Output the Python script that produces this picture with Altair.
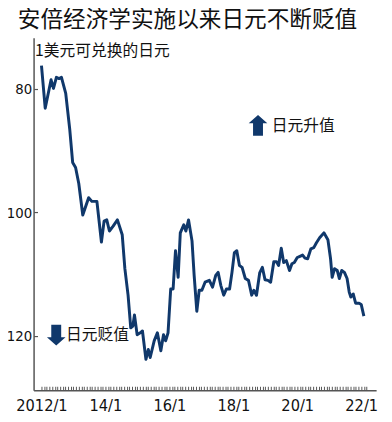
import altair as alt
import pandas as pd

# months since 2012/1 and yen per dollar
months = [0, 1.4, 3.6, 4.5, 5.6, 6.6, 7.5, 9.1, 10.6, 11.7, 12.8, 14, 15.5, 17.7, 18.9,
          20.8, 22.5, 23.5, 24.5, 25.5, 26.9, 28.5, 30.3, 31.3, 32.5, 33.5, 34.3, 34.9,
          35.9, 37.1, 37.9, 39.2, 40.1, 40.8, 42.3, 43.5, 44.8, 45.8, 46.6, 47.5, 48.5,
          49.4, 50.3, 51.3, 52.1, 53.4, 54.2, 55.2, 56.5, 57.3, 58.3, 59.2, 60.2, 61.4,
          63, 64.2, 65.4, 66.3, 67.3, 68.4, 69.4, 70.6, 71.5, 72.4, 73.3, 74.3, 75.3,
          76.5, 77.7, 78.9, 79.7, 80.7, 81.9, 82.9, 83.9, 85, 86, 87.2, 88.2, 89, 90,
          90.9, 91.9, 93.1, 94, 94.9, 96, 97, 98, 98.9, 99.9, 101.1, 102.2, 103.2, 104.4,
          106, 107.5, 108.5, 109.1, 110, 111, 111.8, 112.7, 113.7, 114.7, 115.5, 116.1,
          117, 117.9, 119.2, 120, 121]
yen = [76.2, 83.1, 78.5, 79.9, 78.1, 78.3, 78.1, 80.7, 86.5, 91.9, 92.7, 95.3, 100.4, 97.6, 98.2,
       98.2, 104.8, 101.4, 101.2, 103.0, 102.2, 101.2, 103.6, 109.1, 113.4, 118.7, 118.4, 116.6,
       119.8, 119.5, 119.2, 123.8, 122.2, 123.5, 120.8, 119.5, 122.4, 119.8, 120.8, 119.5, 112.4,
       112.4, 106.2, 110.5, 103.3, 102.0, 103.0, 101.2, 104.6, 110.2, 116.0, 112.6, 112.6, 111.3,
       111.0, 112.1, 110.2, 109.7, 111.8, 113.4, 112.4, 112.4, 109.7, 106.5, 106.2, 108.6, 108.9,
       110.7, 111.0, 113.4, 112.6, 113.4, 109.8, 108.9, 110.9, 111.0, 111.3, 108.0, 108.0, 108.6, 105.8,
       108.1, 107.8, 109.4, 108.3, 108.1, 107.3, 107.1, 106.9, 107.4, 107.5, 105.9, 105.7, 104.9, 104.1,
       103.3, 104.4, 107.5, 110.5, 109.1, 109.4, 110.7, 109.4, 109.7, 110.7, 112.9, 113.7,
       113.2, 114.7, 114.7, 114.9, 116.8]

label_months = [0, 24, 48, 72, 96, 120]
y_ticks = [80, 100, 120]
minor_months = list(range(0, 123))

title_text = "安倍经济学实施以来日元不断贬值"
unit_text = "1美元可兑换的日元"
up_text = ["日元升值"]
down_text = ["日元贬值"]

NAVY = "#10386b"
AXIS = "#555555"
NUM_FONT = "Liberation Sans Narrow, DejaVu Sans Condensed, Liberation Sans, sans-serif"
CJK = "Noto Sans CJK SC"

df = pd.DataFrame({"m": months, "v": yen})

xscale = alt.Scale(domain=[-2.96, 125.6], nice=False, zero=False)
yscale = alt.Scale(domain=[71.7, 128.8], reverse=True, nice=False, zero=False)

label_expr = "datum.value == 0 ? '2012/1' : (12 + datum.value / 12) + '/1'"

line = alt.Chart(df).mark_line(color=NAVY, strokeWidth=3, strokeJoin="round").encode(
    x=alt.X("m:Q", scale=xscale,
            axis=alt.Axis(values=label_months, labelExpr=label_expr, ticks=False, grid=False,
                          domainColor=AXIS, domainWidth=1.5, labelFont=NUM_FONT, labelFontSize=16.5,
                          labelColor="#111", labelPadding=8, title=None)),
    y=alt.Y("v:Q", scale=yscale,
            axis=alt.Axis(values=y_ticks, ticks=False, grid=False, domainColor=AXIS, domainWidth=1.5,
                          labelFont=NUM_FONT, labelFontSize=15, labelColor="#111", labelPadding=2,
                          title=unit_text, titleAngle=0, titleAlign="left", titleBaseline="top",
                          titleX=1, titleY=5, titleFont=CJK, titleFontSize=16,
                          titleFontWeight="normal", titleColor="#111")),
)

ticks = alt.Chart(df).mark_line(opacity=0).encode(
    x=alt.X("m:Q", scale=xscale,
            axis=alt.Axis(values=minor_months, labels=False, domain=False, grid=False, tickSize=4,
                          tickColor=AXIS, tickWidth=1, offset=-4, orient="bottom", title=None)),
    y=alt.Y("v:Q", scale=yscale,
            axis=alt.Axis(values=y_ticks, labels=False, domain=False, grid=False, tickSize=4,
                          tickColor=AXIS, tickWidth=1.2, offset=-4, orient="left", title=None)),
)

UP_PATH = "M0,-1L0.9,-0.2L0.48,-0.2L0.48,1L-0.48,1L-0.48,-0.2L-0.9,-0.2Z"
DOWN_PATH = "M0,1L0.9,0.2L0.48,0.2L0.48,-1L-0.48,-1L-0.48,0.2L-0.9,0.2Z"

up_df = pd.DataFrame({"label": up_text})
down_df = pd.DataFrame({"label": down_text})

up_arrow = alt.Chart(up_df).mark_point(shape=UP_PATH, filled=True, color=NAVY, size=441, opacity=1).encode(
    x=alt.value(228), y=alt.value(89))
down_arrow = alt.Chart(down_df).mark_point(shape=DOWN_PATH, filled=True, color=NAVY, size=441, opacity=1).encode(
    x=alt.value(23), y=alt.value(302))
up_label = alt.Chart(up_df).mark_text(font=CJK, fontSize=16, align="left",
                                      baseline="middle", color="#111").encode(
    text="label:N", x=alt.value(242), y=alt.value(90))
down_label = alt.Chart(down_df).mark_text(font=CJK, fontSize=16, align="left",
                                          baseline="middle", color="#111").encode(
    text="label:N", x=alt.value(33), y=alt.value(302))

chart = alt.layer(line, ticks, up_arrow, down_arrow, up_label, down_label).resolve_axis(
    x="independent", y="independent"
).properties(
    width=348, height=358,
    title=alt.TitleParams(title_text, anchor="start", frame="group", font=CJK, fontSize=23,
                          fontWeight="normal", color="#111", dx=-16, offset=6),
    autosize=alt.AutoSizeParams(type="none"),
    padding={"left": 26, "top": 27, "right": 8, "bottom": 30},
).configure_view(stroke=None)

chart.save("out.html", embed_options={"renderer": "svg", "actions": False})
